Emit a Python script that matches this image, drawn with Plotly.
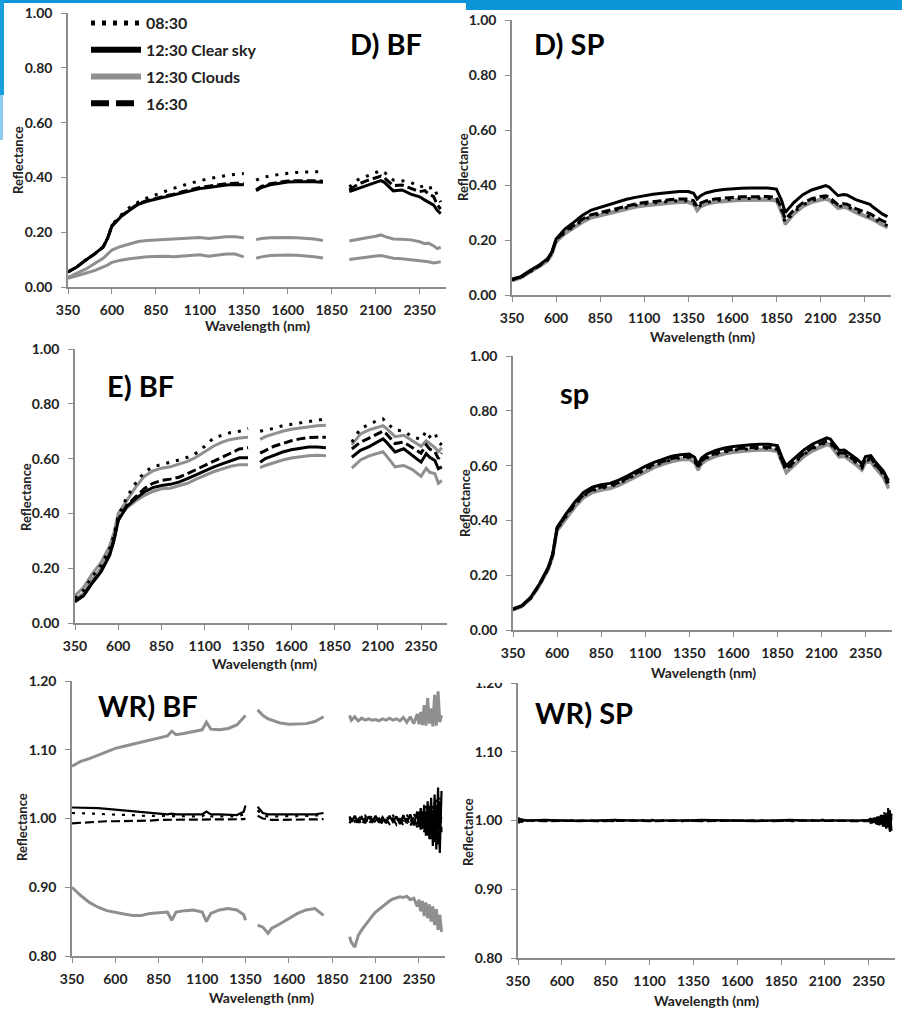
import plotly.graph_objects as go

W, H = 902, 1010
FONT = "Lato"
INK = "#222222"
AXIS = "#8c8c8c"
GREY = "#8f8f8f"

# ---------------- data ----------------
# bare-fibre panels share one wavelength grid; None breaks the line at the water bands
wl_bf = [350, 400, 450, 500, 550, 575, 600, 650, 700, 750, 800, 850, 900, 950, 1000,
         1050, 1100, 1150, 1200, 1250, 1300, 1350, 1385,
         1420, 1450, 1500, 1550, 1600, 1650, 1700, 1750, 1800, 1875,
         1950, 2000, 2050, 2100, 2130, 2150, 2200, 2250, 2300, 2350, 2380, 2400, 2430, 2450, 2470]

# D) BF
dbf_0830 = [0.055, 0.073, 0.098, 0.12, 0.146, 0.178, 0.226, 0.262, 0.29, 0.31, 0.325, 0.337, 0.348, 0.36, 0.37,
            0.38, 0.388, 0.395, 0.402, 0.407, 0.411, 0.414, None,
            0.39, 0.398, 0.406, 0.411, 0.415, 0.418, 0.42, 0.421, 0.421, None,
            0.365, 0.392, 0.405, 0.418, 0.425, 0.418, 0.39, 0.388, 0.382, 0.365, 0.37, 0.36, 0.365, 0.335, 0.31]
dbf_1230_clear = [0.055, 0.073, 0.098, 0.12, 0.146, 0.177, 0.222, 0.256, 0.28, 0.302, 0.313, 0.321, 0.328, 0.337, 0.345,
                  0.352, 0.359, 0.363, 0.368, 0.372, 0.374, 0.373, None,
                  0.351, 0.363, 0.373, 0.379, 0.383, 0.384, 0.385, 0.384, 0.382, None,
                  0.348, 0.36, 0.372, 0.382, 0.388, 0.382, 0.351, 0.354, 0.339, 0.329, 0.317, 0.31, 0.299, 0.28, 0.268]
dbf_1630 = [0.055, 0.073, 0.098, 0.12, 0.146, 0.177, 0.224, 0.258, 0.282, 0.304, 0.316, 0.323, 0.33, 0.339, 0.348,
            0.356, 0.363, 0.368, 0.373, 0.377, 0.379, 0.378, None,
            0.355, 0.367, 0.377, 0.383, 0.387, 0.388, 0.389, 0.388, 0.386, None,
            0.355, 0.375, 0.388, 0.398, 0.405, 0.398, 0.37, 0.372, 0.36, 0.348, 0.352, 0.34, 0.33, 0.3, 0.285]
dbf_clouds_a = [0.035, 0.05, 0.065, 0.085, 0.105, 0.12, 0.135, 0.148, 0.158, 0.166, 0.17, 0.172, 0.173, 0.175, 0.178,
                0.181, 0.181, 0.177, 0.181, 0.183, 0.183, 0.18, None,
                0.173, 0.177, 0.18, 0.181, 0.181, 0.18, 0.178, 0.175, 0.17, None,
                0.168, 0.175, 0.18, 0.185, 0.19, 0.185, 0.175, 0.174, 0.172, 0.165, 0.158, 0.16, 0.15, 0.14, 0.145]
dbf_clouds_b = [0.032, 0.04, 0.05, 0.06, 0.072, 0.08, 0.09, 0.098, 0.103, 0.107, 0.11, 0.111, 0.112, 0.11, 0.113,
                0.116, 0.118, 0.112, 0.117, 0.12, 0.12, 0.11, None,
                0.105, 0.11, 0.115, 0.117, 0.117, 0.116, 0.114, 0.11, 0.106, None,
                0.1, 0.105, 0.11, 0.113, 0.115, 0.112, 0.105, 0.103, 0.1, 0.097, 0.095, 0.092, 0.088, 0.09, 0.092]

# E) BF
ebf_0830 = [0.09, 0.12, 0.17, 0.21, 0.27, 0.32, 0.39, 0.46, 0.51, 0.55, 0.57, 0.578, 0.585, 0.595, 0.605,
            0.62, 0.645, 0.675, 0.685, 0.695, 0.70, 0.71, None,
            0.70, 0.705, 0.71, 0.72, 0.725, 0.73, 0.735, 0.738, 0.745, None,
            0.66, 0.71, 0.725, 0.74, 0.745, 0.73, 0.705, 0.70, 0.68, 0.67, 0.70, 0.68, 0.695, 0.66, 0.65]
ebf_1230_clear = [0.077, 0.10, 0.146, 0.186, 0.247, 0.30, 0.374, 0.426, 0.453, 0.478, 0.494, 0.502, 0.506, 0.514, 0.527,
                  0.542, 0.557, 0.569, 0.581, 0.593, 0.603, 0.603, None,
                  0.587, 0.6, 0.612, 0.624, 0.632, 0.638, 0.642, 0.642, 0.64, None,
                  0.605, 0.63, 0.644, 0.66, 0.672, 0.66, 0.624, 0.636, 0.612, 0.587, 0.618, 0.605, 0.593, 0.563, 0.57]
ebf_1630 = [0.08, 0.102, 0.148, 0.188, 0.25, 0.305, 0.378, 0.43, 0.46, 0.49, 0.51, 0.52, 0.525, 0.532, 0.545,
            0.56, 0.575, 0.59, 0.605, 0.62, 0.635, 0.64, None,
            0.62, 0.63, 0.645, 0.655, 0.665, 0.672, 0.677, 0.678, 0.678, None,
            0.635, 0.66, 0.675, 0.69, 0.70, 0.69, 0.655, 0.66, 0.64, 0.62, 0.65, 0.635, 0.625, 0.6, 0.62]
ebf_clouds_a = [0.10, 0.13, 0.18, 0.22, 0.28, 0.33, 0.40, 0.45, 0.495, 0.535, 0.555, 0.565, 0.57, 0.58, 0.59,
                0.605, 0.625, 0.645, 0.66, 0.67, 0.675, 0.678, None,
                0.67, 0.68, 0.69, 0.70, 0.707, 0.712, 0.717, 0.72, 0.722, None,
                0.65, 0.69, 0.705, 0.715, 0.72, 0.71, 0.68, 0.685, 0.665, 0.645, 0.665, 0.655, 0.64, 0.625, 0.64]
ebf_clouds_b = [0.085, 0.11, 0.16, 0.20, 0.26, 0.31, 0.38, 0.42, 0.445, 0.465, 0.48, 0.49, 0.492, 0.50, 0.51,
                0.525, 0.54, 0.552, 0.562, 0.572, 0.578, 0.578, None,
                0.567, 0.575, 0.585, 0.595, 0.602, 0.607, 0.61, 0.612, 0.61, None,
                0.565, 0.595, 0.61, 0.62, 0.625, 0.61, 0.57, 0.575, 0.56, 0.535, 0.565, 0.55, 0.545, 0.51, 0.52]

# spectralon panels (continuous)
wl_sp = [350, 400, 450, 500, 550, 575, 600, 650, 700, 750, 800, 850, 900, 950, 1000,
         1050, 1100, 1150, 1200, 1250, 1300, 1350, 1380, 1400, 1420,
         1450, 1500, 1550, 1600, 1650, 1700, 1750, 1800, 1850, 1880, 1900,
         1950, 2000, 2050, 2100, 2130, 2150, 2200, 2230, 2250, 2300, 2330, 2350, 2380, 2400, 2450, 2480]

# D) SP
dsp_1230_clear = [0.058, 0.067, 0.088, 0.107, 0.131, 0.155, 0.204, 0.24, 0.264, 0.29, 0.309, 0.319, 0.328, 0.338, 0.348,
                  0.355, 0.361, 0.366, 0.37, 0.373, 0.376, 0.376, 0.37, 0.349, 0.361,
                  0.371, 0.379, 0.384, 0.387, 0.388, 0.389, 0.389, 0.389, 0.385, 0.343, 0.30,
                  0.337, 0.365, 0.382, 0.392, 0.398, 0.392, 0.361, 0.365, 0.364, 0.347, 0.34, 0.337, 0.33, 0.319, 0.295, 0.285]
dsp_1630 = [0.056, 0.065, 0.086, 0.105, 0.128, 0.152, 0.2, 0.232, 0.253, 0.276, 0.292, 0.3, 0.308, 0.316, 0.324,
            0.331, 0.336, 0.34, 0.344, 0.347, 0.349, 0.349, 0.343, 0.322, 0.334,
            0.342, 0.349, 0.353, 0.355, 0.357, 0.358, 0.358, 0.358, 0.355, 0.315, 0.276,
            0.31, 0.335, 0.35, 0.358, 0.361, 0.356, 0.328, 0.332, 0.33, 0.314, 0.306, 0.303, 0.296, 0.288, 0.27, 0.262]
dsp_0830 = [0.055, 0.064, 0.084, 0.103, 0.126, 0.15, 0.197, 0.228, 0.249, 0.271, 0.287, 0.295, 0.303, 0.311, 0.319,
            0.326, 0.331, 0.335, 0.339, 0.341, 0.343, 0.343, 0.336, 0.313, 0.327,
            0.336, 0.343, 0.347, 0.349, 0.351, 0.352, 0.352, 0.352, 0.349, 0.307, 0.264,
            0.302, 0.328, 0.343, 0.351, 0.355, 0.35, 0.321, 0.325, 0.323, 0.306, 0.298, 0.295, 0.287, 0.279, 0.261, 0.252]
dsp_clouds_a = [0.054, 0.063, 0.083, 0.102, 0.125, 0.148, 0.195, 0.226, 0.246, 0.268, 0.284, 0.292, 0.3, 0.308, 0.316,
                0.323, 0.328, 0.332, 0.336, 0.338, 0.34, 0.34, 0.333, 0.31, 0.324,
                0.333, 0.34, 0.344, 0.346, 0.348, 0.349, 0.349, 0.349, 0.346, 0.303, 0.26,
                0.298, 0.325, 0.34, 0.348, 0.352, 0.347, 0.318, 0.322, 0.32, 0.303, 0.295, 0.292, 0.284, 0.276, 0.258, 0.248]
dsp_clouds_b = [0.052, 0.061, 0.081, 0.1, 0.122, 0.145, 0.192, 0.222, 0.242, 0.264, 0.28, 0.288, 0.296, 0.304, 0.312,
                0.319, 0.324, 0.328, 0.332, 0.334, 0.336, 0.336, 0.329, 0.306, 0.32,
                0.329, 0.336, 0.34, 0.342, 0.344, 0.345, 0.345, 0.345, 0.342, 0.298, 0.256,
                0.294, 0.321, 0.336, 0.344, 0.348, 0.343, 0.314, 0.318, 0.316, 0.299, 0.291, 0.288, 0.28, 0.272, 0.254, 0.244]

# sp (E)
esp_1230_clear = [0.077, 0.089, 0.119, 0.168, 0.229, 0.277, 0.375, 0.423, 0.466, 0.502, 0.521, 0.53, 0.535, 0.547, 0.563,
                  0.581, 0.597, 0.612, 0.624, 0.634, 0.64, 0.642, 0.63, 0.603, 0.628,
                  0.642, 0.655, 0.664, 0.67, 0.674, 0.676, 0.678, 0.678, 0.673, 0.624, 0.6,
                  0.63, 0.657, 0.679, 0.693, 0.701, 0.697, 0.655, 0.657, 0.648, 0.624, 0.606, 0.633, 0.636, 0.618, 0.581, 0.545]
esp_1630 = [0.076, 0.088, 0.117, 0.166, 0.226, 0.274, 0.37, 0.417, 0.459, 0.494, 0.513, 0.522, 0.527, 0.539, 0.555,
            0.573, 0.589, 0.604, 0.616, 0.626, 0.632, 0.634, 0.622, 0.596, 0.618,
            0.632, 0.645, 0.654, 0.66, 0.664, 0.666, 0.667, 0.667, 0.663, 0.612, 0.588,
            0.618, 0.645, 0.667, 0.681, 0.69, 0.686, 0.645, 0.647, 0.638, 0.614, 0.597, 0.624, 0.627, 0.609, 0.572, 0.535]
esp_0830 = [0.075, 0.087, 0.116, 0.165, 0.224, 0.272, 0.368, 0.414, 0.455, 0.49, 0.509, 0.518, 0.523, 0.535, 0.551,
            0.569, 0.585, 0.6, 0.612, 0.622, 0.628, 0.63, 0.618, 0.591, 0.614,
            0.628, 0.641, 0.65, 0.656, 0.66, 0.662, 0.663, 0.663, 0.659, 0.608, 0.583,
            0.613, 0.641, 0.662, 0.676, 0.685, 0.681, 0.64, 0.642, 0.633, 0.609, 0.592, 0.619, 0.622, 0.604, 0.567, 0.528]
esp_clouds_a = [0.074, 0.086, 0.115, 0.163, 0.222, 0.27, 0.365, 0.41, 0.451, 0.486, 0.505, 0.514, 0.519, 0.531, 0.547,
                0.565, 0.581, 0.596, 0.608, 0.618, 0.624, 0.626, 0.614, 0.587, 0.61,
                0.624, 0.637, 0.646, 0.652, 0.656, 0.658, 0.66, 0.66, 0.655, 0.604, 0.578,
                0.608, 0.637, 0.658, 0.672, 0.681, 0.677, 0.636, 0.638, 0.629, 0.605, 0.588, 0.615, 0.618, 0.6, 0.562, 0.522]
esp_clouds_b = [0.073, 0.085, 0.113, 0.161, 0.219, 0.266, 0.361, 0.406, 0.447, 0.482, 0.501, 0.51, 0.515, 0.527, 0.543,
                0.561, 0.577, 0.592, 0.604, 0.614, 0.62, 0.622, 0.61, 0.583, 0.606,
                0.62, 0.633, 0.642, 0.648, 0.652, 0.654, 0.656, 0.656, 0.651, 0.6, 0.573,
                0.603, 0.632, 0.653, 0.667, 0.676, 0.672, 0.631, 0.633, 0.624, 0.6, 0.583, 0.61, 0.613, 0.595, 0.557, 0.516]

# WR) BF - white reference ratio, bare fibre
wl_wr = [350, 400, 450, 500, 550, 600, 650, 700, 750, 800, 850, 900, 925, 950, 1000, 1050, 1100, 1125, 1150,
         1200, 1250, 1300, 1340, 1350, 1385,
         1420, 1450, 1480, 1500, 1550, 1600, 1650, 1700, 1750, 1800, 1875,
         1950, 1960, 1980, 2000, 2020, 2040, 2060, 2080, 2100, 2120, 2140, 2160, 2180, 2200, 2220, 2240,
         2260, 2280, 2300, 2320, 2340, 2350, 2360, 2370, 2380, 2390, 2400, 2410, 2420, 2430, 2440, 2450,
         2460, 2470, 2480]
wrbf_0830 = [1.008, 1.008, 1.007, 1.007, 1.006, 1.006, 1.005, 1.005, 1.004, 1.004, 1.004, 1.003, 1.004, 1.003,
             1.003, 1.003, 1.003, 1.007, 1.003, 1.003, 1.003, 1.003, 1.006, 1.012, None,
             1.012, 1.004, 1.003, 1.003, 1.003, 1.003, 1.003, 1.003, 1.004, 1.006, None,
             0.998, 1.004, 0.996, 1.005, 0.997, 1.004, 0.996, 1.005, 0.997, 1.003, 0.996, 1.004, 0.997, 1.005,
             0.995, 1.004, 0.996, 1.006, 0.994, 1.008, 0.992, 1.012, 0.99, 1.015, 0.985, 1.018, 0.98, 1.022,
             0.975, 1.02, 0.97, 1.028, 0.965, 1.03, 0.99]
wrbf_1230_clear = [1.016, 1.016, 1.015, 1.015, 1.014, 1.013, 1.012, 1.011, 1.01, 1.008, 1.007, 1.006, 1.007, 1.006,
                   1.006, 1.006, 1.006, 1.01, 1.006, 1.006, 1.005, 1.005, 1.01, 1.019, None,
                   1.017, 1.008, 1.006, 1.006, 1.005, 1.005, 1.005, 1.005, 1.006, 1.008, None,
                   1.003, 0.995, 1.004, 0.994, 1.002, 0.993, 1.003, 0.995, 1.004, 0.994, 1.002, 0.993, 1.004, 0.995,
                   1.003, 0.992, 1.005, 0.993, 1.006, 0.99, 1.01, 0.988, 1.015, 0.985, 1.02, 0.975, 1.025, 0.97,
                   1.03, 0.96, 1.035, 0.955, 1.045, 0.95, 1.04]
wrbf_1630 = [0.993, 0.994, 0.995, 0.995, 0.996, 0.996, 0.996, 0.997, 0.997, 0.997, 0.998, 0.998, 0.998, 0.998,
             0.998, 0.998, 0.998, 0.999, 0.998, 0.998, 0.998, 0.998, 0.999, 1.0, None,
             1.004, 1.0, 0.999, 0.998, 0.998, 0.998, 0.998, 0.998, 0.998, 0.999, None,
             0.993, 1.0, 0.992, 0.999, 0.991, 1.0, 0.992, 0.999, 0.993, 1.0, 0.991, 0.998, 0.992, 1.0,
             0.991, 0.999, 0.99, 1.0, 0.989, 1.002, 0.987, 1.004, 0.984, 1.006, 0.98, 1.01, 0.975, 1.015,
             0.97, 1.012, 0.965, 1.02, 0.962, 1.025, 0.98]
wrbf_clouds_a = [1.076, 1.083, 1.087, 1.092, 1.097, 1.102, 1.105, 1.108, 1.111, 1.114, 1.117, 1.12, 1.127, 1.122,
                 1.124, 1.126, 1.129, 1.14, 1.13, 1.129, 1.131, 1.136, 1.146, 1.15, None,
                 1.158, 1.15, 1.145, 1.143, 1.139, 1.137, 1.137, 1.138, 1.141, 1.148, None,
                 1.15, 1.143, 1.148, 1.142, 1.146, 1.143, 1.145, 1.143, 1.144, 1.142, 1.145, 1.143, 1.146, 1.143,
                 1.145, 1.142, 1.147, 1.14, 1.148, 1.138, 1.152, 1.137, 1.155, 1.136, 1.165, 1.135, 1.175, 1.138,
                 1.16, 1.134, 1.18, 1.135, 1.185, 1.14, 1.15]
wrbf_clouds_b = [0.90, 0.888, 0.878, 0.871, 0.866, 0.863, 0.861, 0.859, 0.859, 0.862, 0.863, 0.864, 0.852, 0.864,
                 0.866, 0.867, 0.864, 0.85, 0.862, 0.867, 0.869, 0.867, 0.86, 0.852, None,
                 0.845, 0.842, 0.833, 0.84, 0.847, 0.854, 0.862, 0.867, 0.869, 0.859, None,
                 0.828, 0.82, 0.813, 0.83, 0.838, 0.845, 0.852, 0.858, 0.864, 0.868, 0.873, 0.877, 0.88, 0.883,
                 0.884, 0.886, 0.885, 0.887, 0.882, 0.884, 0.872, 0.882, 0.865, 0.88, 0.858, 0.878, 0.855, 0.875,
                 0.85, 0.872, 0.845, 0.868, 0.838, 0.86, 0.835]

# WR) SP
wl_wrsp = [350, 355, 360, 365, 370, 375, 380, 400, 500, 600, 700, 800, 900, 1000, 1100, 1200, 1300, 1400,
           1500, 1600, 1700, 1800, 1900, 2000, 2100, 2200, 2300, 2350, 2360, 2370, 2380, 2390, 2400, 2410,
           2420, 2430, 2440, 2450, 2460, 2470, 2480]
wrsp_1230_clear = [1.004, 0.996, 1.003, 0.997, 1.002, 0.998, 1.001, 1.0, 1.001, 1.0, 0.999, 1.0, 1.001, 1.0,
                   1.0, 0.999, 1.0, 1.001, 1.0, 1.0, 0.999, 1.0, 1.001, 1.0, 1.0, 0.999, 1.0, 1.001,
                   0.998, 1.003, 0.997, 1.004, 0.995, 1.006, 0.994, 1.008, 0.992, 1.01, 0.99, 1.015, 0.985]
wrsp_1630 = [0.997, 1.004, 0.996, 1.003, 0.998, 1.002, 0.999, 1.0, 0.999, 1.0, 1.0, 0.999, 1.0, 1.0,
             0.999, 1.0, 1.0, 0.999, 1.0, 1.0, 1.0, 0.999, 1.0, 1.0, 0.999, 1.0, 1.0, 0.999,
             1.003, 0.996, 1.004, 0.995, 1.006, 0.993, 1.008, 0.991, 1.012, 0.988, 1.018, 0.982, 1.01]
wrsp_0830 = [1.003, 0.997, 1.004, 0.996, 1.002, 0.999, 1.0, 1.0, 1.0, 1.001, 1.0, 1.0, 0.999, 1.0,
             1.001, 1.0, 0.999, 1.0, 1.0, 1.001, 1.0, 1.0, 0.999, 1.0, 1.001, 1.0, 1.0, 1.0,
             0.997, 1.002, 0.996, 1.004, 0.994, 1.005, 0.993, 1.007, 0.99, 1.009, 0.988, 1.012, 0.99]
wrsp_clouds_a = [1.002, 0.998, 1.002, 0.998, 1.001, 0.999, 1.0, 1.0, 1.0, 1.0, 1.0, 1.0, 1.0, 1.0,
                 1.0, 1.0, 1.0, 1.0, 1.0, 1.0, 1.0, 1.0, 1.0, 1.0, 1.0, 1.0, 1.0, 1.0,
                 1.002, 0.998, 1.003, 0.997, 1.004, 0.996, 1.005, 0.995, 1.006, 0.994, 1.008, 0.992, 1.004]

x_ticks = [350, 600, 850, 1100, 1350, 1600, 1850, 2100, 2350]

# ---------------- styling ----------------
STYLE = {
    "0830": dict(color="black", width=3, dash="3px,7px"),
    "1230c": dict(color="black", width=3, dash="solid"),
    "clouds": dict(color=GREY, width=3, dash="solid"),
    "1630": dict(color="black", width=3, dash="9px,4px"),
}

# pixel boxes of each plot area (left, right, top, bottom), y range, ytick step, label
panels = [
    dict(box=(68, 446, 13, 287), yr=(0, 1), dt=0.2, lab="D) BF", lab_xy=(386, 43),
         ytitle_xy=(18, 160), xtitle_xy=(257, 325), wl=wl_bf,
         series=[("clouds", dbf_clouds_a), ("clouds", dbf_clouds_b), ("1230c", dbf_1230_clear),
                 ("1630", dbf_1630), ("0830", dbf_0830)]),
    dict(box=(512, 891, 20, 295), yr=(0, 1), dt=0.2, lab="D) SP", lab_xy=(569, 43),
         ytitle_xy=(463, 167), xtitle_xy=(702, 336), wl=wl_sp,
         series=[("clouds", dsp_clouds_a), ("clouds", dsp_clouds_b), ("0830", dsp_0830),
                 ("1630", dsp_1630), ("1230c", dsp_1230_clear)]),
    dict(box=(75, 447, 349, 623), yr=(0, 1), dt=0.2, lab="E) BF", lab_xy=(140, 385),
         ytitle_xy=(26, 497), xtitle_xy=(264, 663), wl=wl_bf,
         series=[("clouds", ebf_clouds_a), ("clouds", ebf_clouds_b), ("1230c", ebf_1230_clear),
                 ("1630", ebf_1630), ("0830", ebf_0830)]),
    dict(box=(513, 892, 356, 630), yr=(0, 1), dt=0.2, lab="sp", lab_xy=(574, 392),
         ytitle_xy=(465, 503), xtitle_xy=(703, 672), wl=wl_sp,
         series=[("clouds", esp_clouds_a), ("clouds", esp_clouds_b), ("0830", esp_0830),
                 ("1630", esp_1630), ("1230c", esp_1230_clear)]),
    dict(box=(72, 445, 681, 956), yr=(0.8, 1.2), dt=0.1, lab="WR) BF", lab_xy=(148, 705),
         ytitle_xy=(22, 827), xtitle_xy=(261, 997), wl=wl_wr,
         series=[("clouds", wrbf_clouds_a), ("clouds", wrbf_clouds_b), ("1630", wrbf_1630),
                 ("0830", wrbf_0830), ("1230c", wrbf_1230_clear)]),
    dict(box=(518, 895, 683, 958), yr=(0.8, 1.2), dt=0.1, lab="WR) SP", lab_xy=(584, 712),
         ytitle_xy=(468, 832), xtitle_xy=(706, 1000), wl=wl_wrsp,
         series=[("clouds", wrsp_clouds_a), ("1630", wrsp_1630), ("0830", wrsp_0830),
                 ("1230c", wrsp_1230_clear)]),
]


def fx(p):
    return p / W


def fy(p):
    return 1 - p / H


fig = go.Figure()
annotations = []
layout = {}

for i, p in enumerate(panels, start=1):
    sfx = "" if i == 1 else str(i)
    l, r, t, b = p["box"]
    for key, vals in p["series"]:
        st = STYLE[key]
        w = 2.2 if (i >= 5 and key != "clouds") else st["width"]
        fig.add_trace(go.Scatter(
            x=p["wl"], y=vals, mode="lines", showlegend=False, hoverinfo="skip",
            line=dict(color=st["color"], width=w, dash=st["dash"]),
            connectgaps=False, xaxis="x" + sfx, yaxis="y" + sfx))

    y0, y1 = p["yr"]
    nt = int(round((y1 - y0) / p["dt"]))
    yt = [round(y0 + k * p["dt"], 2) for k in range(nt + 1)]
    layout["xaxis" + sfx] = dict(
        domain=[fx(l), fx(r)], range=[350, 2500], anchor="y" + sfx, automargin=False,
        tickvals=x_ticks, ticks="outside", ticklen=5, tickwidth=1.3, tickcolor=AXIS,
        showline=True, linecolor=AXIS, linewidth=1.5, showgrid=False, zeroline=False,
        ticklabelstandoff=4,
        tickfont=dict(family=FONT, size=14, color=INK, weight="bold"))
    layout["yaxis" + sfx] = dict(
        domain=[fy(b), fy(t)], range=[y0, y1], anchor="x" + sfx, automargin=False,
        tickvals=yt, tickformat=".2f", ticks="outside", ticklen=5, tickwidth=1.3, tickcolor=AXIS,
        showline=True, linecolor=AXIS, linewidth=1.5, showgrid=False, zeroline=False,
        ticklabelstandoff=6,
        tickfont=dict(family=FONT, size=14, color=INK, weight="bold"))

    lx, ly = p["lab_xy"]
    annotations.append(dict(text=p["lab"], x=fx(lx), y=fy(ly), xref="paper", yref="paper",
                            showarrow=False, xanchor="center", yanchor="middle",
                            font=dict(family=FONT, size=29, color="black", weight="bold")))
    tx, ty = p["ytitle_xy"]
    annotations.append(dict(text="Reflectance", x=fx(tx), y=fy(ty), xref="paper", yref="paper",
                            showarrow=False, textangle=-90, xanchor="center", yanchor="middle",
                            font=dict(family=FONT, size=13, color=INK, weight="bold")))
    wx, wy = p["xtitle_xy"]
    annotations.append(dict(text="Wavelength (nm)", x=fx(wx), y=fy(wy), xref="paper", yref="paper",
                            showarrow=False, xanchor="center", yanchor="middle",
                            font=dict(family=FONT, size=14, color=INK, weight="bold")))

# legend-only traces (thicker samples, as in the original legend)
legend_items = [
    ("08:30", dict(color="black", width=5, dash="4px,7px")),
    ("12:30 Clear sky", dict(color="black", width=6, dash="solid")),
    ("12:30 Clouds", dict(color=GREY, width=6, dash="solid")),
    ("16:30", dict(color="black", width=6, dash="18px,7px")),
]
for name, ln in legend_items:
    fig.add_trace(go.Scatter(x=[None], y=[None], mode="lines", name=name, line=ln,
                             legendgroup=name, showlegend=True))

shapes = [
    # blue slide decoration along the top and left edge
    dict(type="rect", xref="paper", yref="paper", x0=0, x1=fx(466), y0=fy(3), y1=1,
         fillcolor="#0b93d9", line_width=0, layer="above"),
    dict(type="rect", xref="paper", yref="paper", x0=fx(466), x1=1, y0=fy(10), y1=1,
         fillcolor="#0b96da", line_width=0, layer="above"),
    dict(type="rect", xref="paper", yref="paper", x0=0, x1=fx(4), y0=fy(95), y1=1,
         fillcolor="#1a9ddc", line_width=0, layer="above"),
    dict(type="rect", xref="paper", yref="paper", x0=0, x1=fx(3), y0=fy(140), y1=fy(95),
         fillcolor="#8fcbee", line_width=0, layer="above"),
    # top of the WR) SP "1.20" label is hidden in the original
    dict(type="rect", xref="paper", yref="paper", x0=fx(462), x1=fx(512), y0=fy(683), y1=fy(668),
         fillcolor="white", line_width=0, layer="above"),
]

fig.update_layout(
    width=W, height=H, autosize=False,
    margin=dict(l=0, r=0, t=0, b=0, autoexpand=False),
    paper_bgcolor="white", plot_bgcolor="white",
    annotations=annotations, shapes=shapes,
    legend=dict(x=fx(86), y=fy(6), xanchor="left", yanchor="top", bgcolor="rgba(0,0,0,0)",
                itemwidth=50, tracegroupgap=3, traceorder="grouped",
                font=dict(family=FONT, size=16, color=INK, weight="bold")),
    **layout,
)

# the page body has a default margin; drop it so the figure sits at the window corner
fig.write_html("out.html", config={"displayModeBar": False},
               post_script="document.body.style.margin='0';")
